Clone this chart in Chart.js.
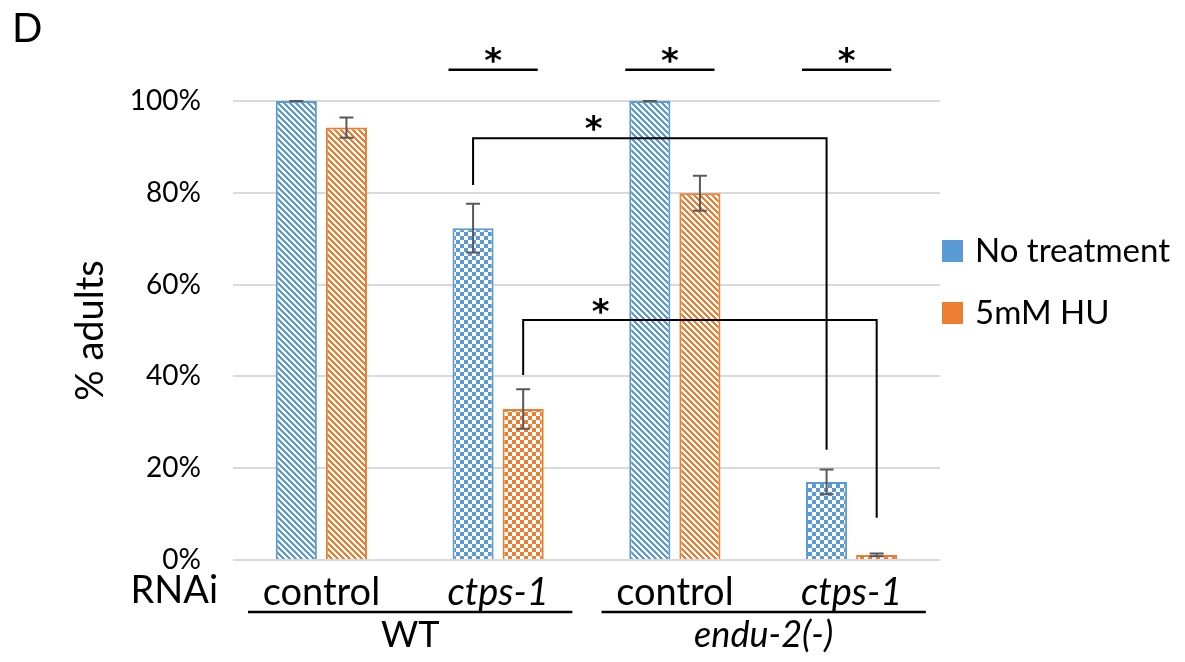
<!DOCTYPE html>
<html>
<head>
<meta charset="utf-8">
<script src="https://cdn.jsdelivr.net/npm/chart.js@4.4.1/dist/chart.umd.min.js"></script>
<style>
  html, body { margin: 0; padding: 0; background: #fff; }
  #wrap { width: 1185px; height: 662px; position: relative; }
</style>
</head>
<body>
<div id="wrap"><canvas id="chart"></canvas></div>
<script>
// categories (RNAi) and strain groups
const categories = ['control', 'ctps-1', 'control', 'ctps-1'];
const strains = ['WT', 'endu-2(-)'];
const seriesNames = ['No treatment', '5mM HU'];

// % adults
const noTreatment = [100, 72.3, 100, 17.0];
const hydroxyurea = [94.2, 32.9, 79.9, 1.1];
const noTreatmentErr = [0, 5.3, 0, 2.7];
const hydroxyureaErr = [2.2, 4.3, 3.8, 0.3];

const yTicks = [0, 20, 40, 60, 80, 100];

// significance marks: group bars (top) and brackets between bars
const sigGroups = [1, 2, 3];
const brackets = [
    { from: [0, 1], to: [0, 3], top: 91.9, fromEnd: 81.7, toEnd: 24.0, starCat: 1.54, starY: 95.4 },
    { from: [1, 1], to: [1, 3], top: 52.3, fromEnd: 40.3, toEnd: 9.2, starCat: 1.58, starY: 55.6 }
];

const BLUE = '#5b9bd5';
const ORANGE = '#ed7d31';
const FONT = 'Lato, "Open Sans", sans-serif';

function makePattern(color, kind) {
    const c = document.createElement('canvas');
    const size = kind === 'stripe' ? 6 : 8;
    c.width = size; c.height = size;
    const g = c.getContext('2d');
    g.fillStyle = '#fff';
    g.fillRect(0, 0, size, size);
    g.fillStyle = color;
    for (let x = 0; x < size; x++) {
        for (let y = 0; y < size; y++) {
            const on = kind === 'stripe'
                ? ((x - y + size) % size) < 3
                : ((Math.floor(x / 4) + Math.floor(y / 4)) % 2) === 0;
            if (on) g.fillRect(x, y, 1, 1);
        }
    }
    return g.createPattern(c, 'repeat');
}

const fills = (color) => categories.map((c, i) => makePattern(color, i % 2 ? 'checker' : 'stripe'));

const overlay = {
    id: 'overlay',
    afterDatasetsDraw(chart) {
        const { ctx, chartArea } = chart;
        const x = chart.scales.x, y = chart.scales.y;
        const errs = [noTreatmentErr, hydroxyureaErr];
        const bar = (ds, i) => chart.getDatasetMeta(ds).data[i];

        ctx.save();
        // error bars
        ctx.strokeStyle = '#595959';
        ctx.lineWidth = 2;
        chart.data.datasets.forEach((d, ds) => {
            d.data.forEach((v, i) => {
                const b = bar(ds, i);
                const top = y.getPixelForValue(v + errs[ds][i]);
                const bot = y.getPixelForValue(v - errs[ds][i]);
                ctx.beginPath();
                ctx.moveTo(b.x, top); ctx.lineTo(b.x, bot);
                ctx.moveTo(b.x - 7, top); ctx.lineTo(b.x + 7, top);
                ctx.moveTo(b.x - 7, bot); ctx.lineTo(b.x + 7, bot);
                ctx.stroke();
            });
        });

        // significance lines over pairs
        ctx.strokeStyle = '#000';
        ctx.fillStyle = '#000';
        ctx.lineWidth = 2.5;
        ctx.font = 'bold 34px "DejaVu Sans", sans-serif';
        ctx.textAlign = 'center';
        ctx.textBaseline = 'middle';
        const lineY = y.getPixelForValue(106.8);
        sigGroups.forEach(i => {
            const l = bar(0, i), r = bar(1, i);
            const x0 = l.x - l.width / 2 - 4, x1 = r.x + r.width / 2 - 6;
            ctx.beginPath(); ctx.moveTo(x0, lineY); ctx.lineTo(x1, lineY); ctx.stroke();
            ctx.fillText('*', (x0 + x1) / 2, y.getPixelForValue(108.2));
        });

        // brackets
        ctx.lineWidth = 2;
        brackets.forEach(br => {
            const a = bar(br.from[0], br.from[1]), b = bar(br.to[0], br.to[1]);
            const top = y.getPixelForValue(br.top);
            ctx.beginPath();
            ctx.moveTo(a.x, y.getPixelForValue(br.fromEnd));
            ctx.lineTo(a.x, top);
            ctx.lineTo(b.x, top);
            ctx.lineTo(b.x, y.getPixelForValue(br.toEnd));
            ctx.stroke();
            ctx.fillText('*', x.getPixelForValue(br.starCat), y.getPixelForValue(br.starY - 2));
        });

        // legend
        ctx.textAlign = 'left';
        ctx.textBaseline = 'alphabetic';
        ctx.font = '33px ' + FONT;
        [BLUE, ORANGE].forEach((col, k) => {
            const bx = chartArea.right + 2, by = chartArea.top + 139 + k * 62;
            ctx.fillStyle = col;
            ctx.fillRect(bx, by, 21, 22);
            ctx.fillStyle = '#000';
            ctx.fillText(seriesNames[k], bx + 33, by + 22);
        });

        // y title
        ctx.save();
        ctx.translate(103, (chartArea.top + chartArea.bottom) / 2);
        ctx.rotate(-Math.PI / 2);
        ctx.textAlign = 'center';
        ctx.font = '38px ' + FONT;
        ctx.fillText('% adults', 0, 0);
        ctx.restore();

        // panel letter
        ctx.font = '40px ' + FONT;
        ctx.fillText('D', 12, 42);

        // RNAi + strain groups below the axis
        ctx.font = '38px ' + FONT;
        ctx.textAlign = 'right';
        ctx.fillText('RNAi', 218, 603);
        ctx.textAlign = 'center';
        ctx.lineWidth = 2.5;
        strains.forEach((s, k) => {
            const x0 = x.getPixelForValue(k * 2 - 0.415);
            const x1 = x.getPixelForValue(k * 2 + 1 + 0.42);
            ctx.beginPath(); ctx.moveTo(x0, 612); ctx.lineTo(x1, 612); ctx.stroke();
            ctx.font = (k ? 'italic ' : '') + '36px ' + FONT;
            ctx.fillText(s, (x0 + x1) / 2, 647);
        });
        ctx.restore();
    }
};

new Chart(document.getElementById('chart'), {
    type: 'bar',
    data: {
        labels: categories,
        datasets: [
            { label: seriesNames[0], data: noTreatment, backgroundColor: fills(BLUE), borderColor: BLUE, borderWidth: 2 },
            { label: seriesNames[1], data: hydroxyurea, backgroundColor: fills(ORANGE), borderColor: ORANGE, borderWidth: 2 }
        ]
    },
    options: {
        responsive: true,
        maintainAspectRatio: false,
        animation: false,
        layout: { padding: { left: 0, right: 245, top: 101, bottom: 0 } },
        datasets: { bar: { categoryPercentage: 0.567, barPercentage: 0.82 } },
        plugins: { legend: { display: false }, tooltip: { enabled: false } },
        scales: {
            x: {
                grid: { display: false },
                border: { display: false },
                ticks: {
                    color: '#000',
                    padding: 2,
                    font: (c) => ({ family: FONT, size: 38, style: c.index % 2 ? 'italic' : 'normal' })
                },
                afterFit: (s) => { s.height = 102; }
            },
            y: {
                min: 0, max: 100,
                afterBuildTicks: (s) => { s.ticks = yTicks.map(v => ({ value: v })); },
                grid: { color: '#d9d9d9', lineWidth: 2, drawTicks: false },
                border: { display: false },
                ticks: { color: '#000', padding: 32, font: { family: FONT, size: 28 }, callback: v => v + '%' },
                afterFit: (s) => { s.width = 233; }
            }
        }
    },
    plugins: [overlay]
});
</script>
</body>
</html>
